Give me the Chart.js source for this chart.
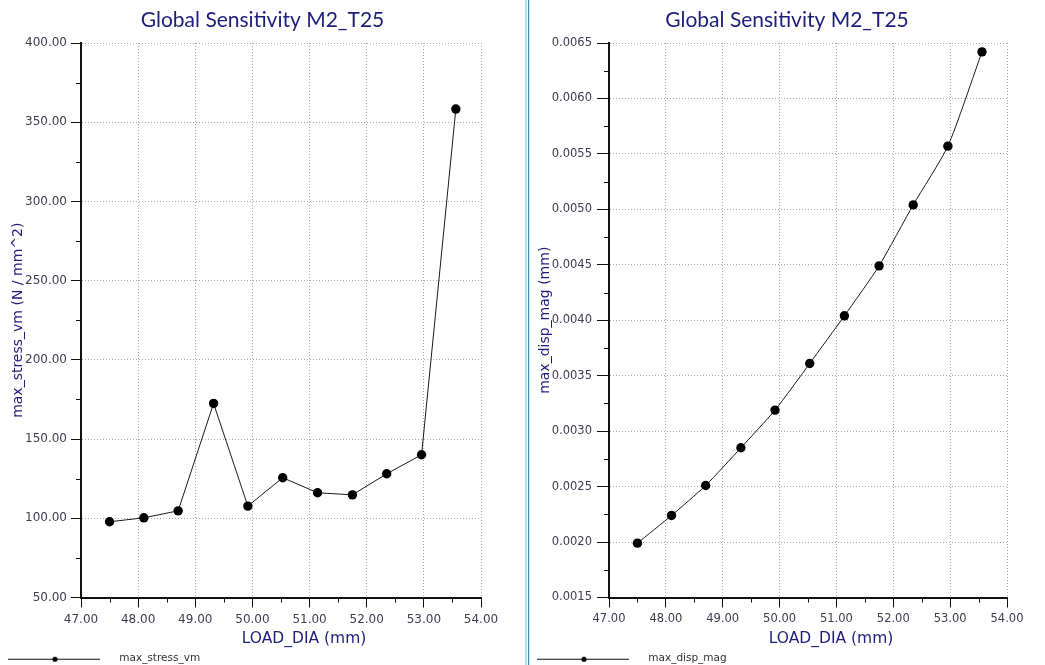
<!DOCTYPE html>
<html>
<head>
<meta charset="utf-8">
<script src="https://cdn.jsdelivr.net/npm/chart.js@4.4.1/dist/chart.umd.min.js"></script>
<style>
  html, body { margin: 0; padding: 0; background: #fff; overflow: hidden; }
  body { width: 1045px; height: 665px; position: relative; }
  .panel { position: absolute; top: 0; }
  .sep { position: absolute; top: 0; height: 665px; }
</style>
</head>
<body>
<div class="panel" style="left:0"><canvas id="stressChart" width="525" height="674"></canvas></div>
<div class="sep" style="left:525px;width:2px;background:#a6e0e8"></div>
<div class="sep" style="left:528px;width:1px;background:#4f8ea2"></div>
<div class="sep" style="left:529px;width:1px;background:#bfeaf0"></div>
<div class="panel" style="left:529px"><canvas id="dispChart" width="516" height="674"></canvas></div>

<script>
// design points from the sensitivity study
const loadDia = [47.50, 48.10, 48.70, 49.32, 49.92, 50.53, 51.14, 51.75, 52.35, 52.96, 53.56];
const maxStressVm = [97.8, 100.3, 104.7, 172.5, 107.7, 125.6, 116.1, 114.8, 128.1, 140.1, 358.3];
const maxDispMag = [0.00199, 0.00224, 0.00251, 0.00285, 0.00319, 0.00361, 0.00404, 0.00449, 0.00504, 0.00557, 0.00642];

const chartTitle = 'Global Sensitivity M2_T25';
const xAxisTitle = 'LOAD_DIA (mm)';
const xRange = [47, 54, 1];
const stressRange = [50, 400, 50];
const dispRange = [0.0015, 0.0065, 0.0005];

const NAVY = '#1d1d7c';
const TICK_TEXT = '#3c3c52';
const AXIS = '#111';

// small line + dot sample used as the legend marker
function legendSwatch() {
  const c = document.createElement('canvas');
  c.width = 106; c.height = 8;
  const g = c.getContext('2d');
  g.strokeStyle = '#111';
  g.lineWidth = 1;
  g.beginPath(); g.moveTo(0, 4.5); g.lineTo(92, 4.5); g.stroke();
  g.fillStyle = '#000';
  g.beginPath(); g.arc(47, 4.5, 2.6, 0, Math.PI * 2); g.fill();
  return c;
}

// half-step tick marks on both axes + the x axis caption
const axisExtras = {
  id: 'axisExtras',
  afterDraw(chart, args, opts) {
    const { ctx, chartArea: a, scales: { x, y } } = chart;
    ctx.save();
    ctx.strokeStyle = AXIS;
    ctx.lineWidth = 1;
    ctx.beginPath();
    const xs = xRange[2];
    for (let i = 0; xRange[0] + (i + 0.5) * xs < xRange[1]; i++) {
      const px = Math.round(x.getPixelForValue(xRange[0] + (i + 0.5) * xs)) + 0.5;
      ctx.moveTo(px, a.bottom);
      ctx.lineTo(px, a.bottom + 5);
    }
    const [y0, y1, ys] = opts.yRange;
    for (let i = 0; y0 + (i + 0.5) * ys < y1; i++) {
      const py = Math.round(y.getPixelForValue(y0 + (i + 0.5) * ys)) + 0.5;
      ctx.moveTo(a.left - 5, py);
      ctx.lineTo(a.left, py);
    }
    ctx.stroke();

    ctx.font = '15.5px "DejaVu Sans"';
    ctx.fillStyle = NAVY;
    ctx.textAlign = 'center';
    ctx.textBaseline = 'middle';
    ctx.fillText(xAxisTitle, (a.left + a.right) / 2 + opts.captionShift, a.bottom + 41);
    ctx.restore();
  }
};

function makeChart(id, cfg) {
  const [ymin, ymax, ystep] = cfg.yRange;
  return new Chart(document.getElementById(id), {
    type: 'line',
    data: {
      datasets: [{
        label: cfg.label,
        data: loadDia.map((d, i) => ({ x: d, y: cfg.values[i] })),
        borderColor: '#1a1a1a',
        borderWidth: 1,
        backgroundColor: '#000',
        pointBackgroundColor: '#000',
        pointBorderWidth: 0,
        pointRadius: 4.7,
        tension: cfg.tension
      }]
    },
    options: {
      responsive: false,
      animation: false,
      layout: { padding: 0 },
      plugins: {
        title: {
          display: true,
          text: chartTitle,
          color: NAVY,
          font: { family: 'Lato', size: 21, weight: 'normal', lineHeight: 1.2 },
          padding: { top: 8, bottom: 9.8 }
        },
        legend: {
          position: 'bottom',
          align: 'start',
          labels: {
            usePointStyle: true,
            pointStyle: legendSwatch(),
            pointStyleWidth: 106,
            padding: 8,
            color: '#333',
            font: { family: 'DejaVu Sans', size: 10.5 }
          }
        },
        tooltip: { enabled: false },
        axisExtras: { yRange: cfg.yRange, captionShift: 23 }
      },
      scales: {
        x: {
          type: 'linear',
          min: xRange[0], max: xRange[1],
          afterFit: s => { s.height = 48; },
          border: { color: AXIS, width: 2, dash: [1, 2] },
          grid: { color: '#ababab', tickColor: AXIS, tickLength: 10 },
          ticks: {
            stepSize: xRange[2],
            autoSkip: false,
            maxRotation: 0,
            padding: 5,
            color: TICK_TEXT,
            font: { family: 'DejaVu Sans', size: cfg.tickSize },
            callback: v => v.toFixed(2)
          }
        },
        y: {
          min: ymin, max: ymax,
          afterFit: s => { s.width = cfg.yWidth; },
          border: { color: AXIS, width: 2, dash: [1, 2] },
          grid: { color: '#ababab', tickColor: AXIS, tickLength: cfg.yTick },
          title: {
            display: true,
            text: cfg.yTitle,
            color: NAVY,
            font: { family: 'DejaVu Sans', size: 14 },
            padding: { top: cfg.yTitlePad, bottom: 0 }
          },
          ticks: {
            stepSize: ystep,
            padding: cfg.yPad,
            color: TICK_TEXT,
            font: { family: 'DejaVu Sans', size: cfg.tickSize },
            callback: v => v.toFixed(cfg.digits)
          }
        },
        // empty right-hand strip so the plot stops short of the panel edge
        rightGap: {
          position: 'right',
          display: true,
          afterFit: s => { s.width = cfg.rightGap; },
          grid: { display: false },
          border: { display: false },
          ticks: { display: false }
        }
      }
    },
    plugins: [axisExtras]
  });
}

makeChart('stressChart', {
  label: 'max_stress_vm',
  values: maxStressVm,
  yRange: stressRange,
  yTitle: 'max_stress_vm (N / mm^2)',
  digits: 2,
  tension: 0,
  tickSize: 12,
  yWidth: 81,
  yTick: 10,
  yPad: 4,
  yTitlePad: 9.6,
  rightGap: 44
});

makeChart('dispChart', {
  label: 'max_disp_mag',
  values: maxDispMag,
  yRange: dispRange,
  yTitle: 'max_disp_mag (mm)',
  digits: 4,
  tension: 0.2,
  tickSize: 11.5,
  yWidth: 80,
  yTick: 12,
  yPad: 5,
  yTitlePad: 7.6,
  rightGap: 38
});
</script>
</body>
</html>
